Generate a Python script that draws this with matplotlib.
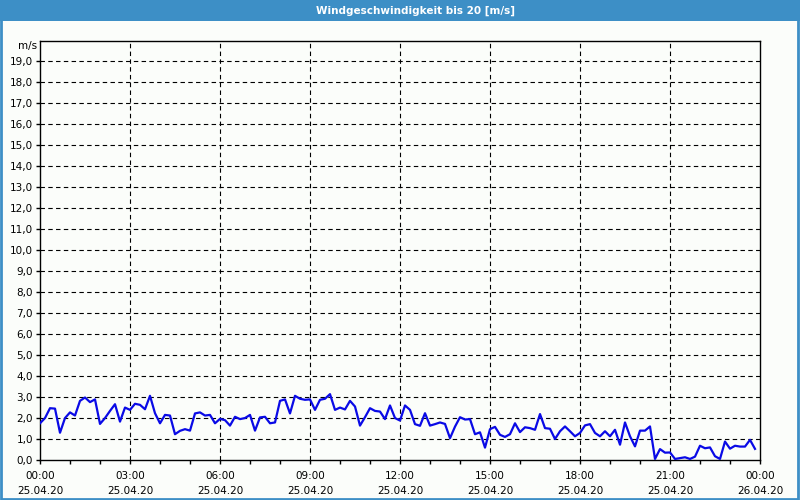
import matplotlib
matplotlib.use("Agg")
import matplotlib.pyplot as plt
import numpy as np
from matplotlib.patches import Rectangle

# --- data (10-minute values, 25.04.20 00:00 .. 23:50) ---
speed = [
    1.75, 2.00, 2.47, 2.45, 1.30, 2.00, 2.27, 2.12, 2.82, 2.98, 2.76, 2.89,
    1.72, 2.00, 2.34, 2.66, 1.83, 2.50, 2.39, 2.68, 2.63, 2.42, 3.06, 2.23,
    1.75, 2.15, 2.12, 1.23, 1.39, 1.47, 1.40, 2.22, 2.27, 2.12, 2.15, 1.75,
    1.96, 1.90, 1.64, 2.06, 1.95, 2.00, 2.15, 1.40, 2.03, 2.06, 1.75, 1.79,
    2.82, 2.89, 2.22, 3.06, 2.92, 2.87, 2.89, 2.39, 2.87, 2.92, 3.14, 2.39,
    2.50, 2.41, 2.82, 2.55, 1.64, 2.04, 2.47, 2.34, 2.31, 1.95, 2.60, 2.00,
    1.88, 2.60, 2.39, 1.71, 1.63, 2.23, 1.64, 1.71, 1.79, 1.72, 1.04, 1.59,
    2.04, 1.93, 1.95, 1.23, 1.32, 0.59, 1.47, 1.58, 1.20, 1.10, 1.23, 1.75,
    1.33, 1.56, 1.52, 1.44, 2.19, 1.52, 1.49, 1.00, 1.37, 1.60, 1.37, 1.13,
    1.29, 1.65, 1.71, 1.29, 1.13, 1.37, 1.13, 1.44, 0.73, 1.79, 1.13, 0.65,
    1.40, 1.40, 1.60, 0.05, 0.52, 0.35, 0.36, 0.05, 0.09, 0.13, 0.05, 0.16,
    0.68, 0.56, 0.60, 0.18, 0.05, 0.88, 0.54, 0.68, 0.64, 0.64, 0.96, 0.53,
]
hours = np.arange(len(speed)) / 6.0  # time axis in hours since 25.04.20 00:00

xtick_hours = [0, 3, 6, 9, 12, 15, 18, 21, 24]
xtick_labels = ["00:00\n25.04.20", "03:00\n25.04.20", "06:00\n25.04.20",
                "09:00\n25.04.20", "12:00\n25.04.20", "15:00\n25.04.20",
                "18:00\n25.04.20", "21:00\n25.04.20", "00:00\n26.04.20"]
ytick_values = list(range(0, 20))
ytick_labels = [f"{v},0" for v in ytick_values]

title = "Windgeschwindigkeit bis 20 [m/s]"
unit = "m/s"

BG = "#fbfdfa"
BAR = "#3d8fc6"
FONT = "DejaVu Sans"

fig = plt.figure(figsize=(8, 5), dpi=100, facecolor=BG)
ax = fig.add_axes([40 / 800, 40 / 500, 720 / 800, 419.5 / 500])
ax.set_facecolor(BG)

ax.plot(hours, speed, color="#0a0ae6", lw=1.6, solid_joinstyle="round", zorder=3)

ax.set_xlim(0, 24)
ax.set_ylim(0, 20)

ax.set_xticks(xtick_hours)
ax.set_xticklabels(xtick_labels, fontsize=7.5, family=FONT, linespacing=1.55)
ax.set_xticks(range(0, 25), minor=True)
ax.set_yticks(ytick_values)
ax.set_yticklabels(ytick_labels, fontsize=7.5, family=FONT)

ax.tick_params(axis="x", which="both", direction="out", length=3, width=1,
               color="black", pad=5)
ax.tick_params(axis="y", which="both", direction="out", length=3, width=1,
               color="black", pad=2)

for h in xtick_hours[1:-1]:
    ax.axvline(h, color="black", lw=0.8, ls=(0, (4, 3)), zorder=1)
for v in ytick_values[1:]:
    ax.axhline(v, color="black", lw=0.8, ls=(0, (4, 3)), zorder=1)

for s in ax.spines.values():
    s.set_color("black")
    s.set_linewidth(1.0)

fig.text(37 / 800, 1 - 46 / 500, unit, ha="right", va="center",
         fontsize=7.5, family=FONT)

# title bar
fig.patches.append(Rectangle((0, 1 - 20.5 / 500), 1, 20.5 / 500,
                             transform=fig.transFigure, facecolor=BAR,
                             edgecolor="none", zorder=0))
fig.text(416 / 800, 1 - 10.5 / 500, title, ha="center", va="center",
         color="white", fontsize=7.5, fontweight="bold", family=FONT)
# outer border
fig.patches.append(Rectangle((0.001, 0.002), 0.997, 0.996,
                             transform=fig.transFigure, facecolor="none",
                             edgecolor=BAR, lw=2, zorder=5))

fig.savefig("out.png", dpi=100, facecolor=BG)
